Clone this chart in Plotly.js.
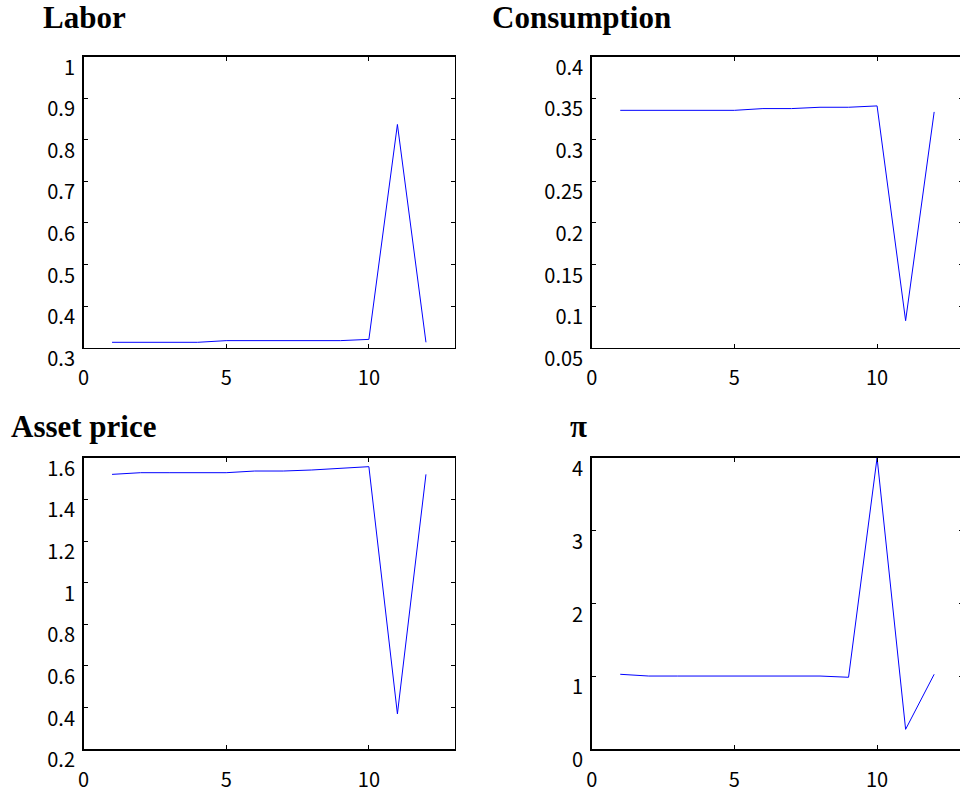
<!DOCTYPE html>
<html>
<head>
<meta charset="utf-8">
<script src="https://cdn.plot.ly/plotly-3.0.1.min.js"></script>
<style>
html, body { margin: 0; padding: 0; overflow: hidden; background: #fff; }
#chart { width: 970px; height: 793px; }
</style>
</head>
<body>
<div id="chart"></div>
<script>
// Data
const periods = [1, 2, 3, 4, 5, 6, 7, 8, 9, 10, 11, 12];
const labor = [0.313, 0.313, 0.313, 0.313, 0.317, 0.317, 0.317, 0.316, 0.317, 0.320, 0.837, 0.313];
const consumption = [0.3355, 0.3355, 0.3355, 0.3355, 0.3355, 0.3376, 0.3376, 0.3392, 0.3392, 0.3408, 0.0825, 0.3336];
const assetPrice = [1.520, 1.528, 1.528, 1.528, 1.528, 1.536, 1.536, 1.541, 1.549, 1.557, 0.370, 1.520];
const inflation = [1.029, 1.005, 1.005, 1.005, 1.005, 1.005, 1.005, 1.005, 0.988, 4.0, 0.274, 1.029];

const titles = ["Labor", "Consumption", "Asset price", "π"];
const xTicks = [0, 5, 10];
const laborTicks = [0.3, 0.4, 0.5, 0.6, 0.7, 0.8, 0.9, 1];
const consTicks = [0.05, 0.1, 0.15, 0.2, 0.25, 0.3, 0.35, 0.4];
const assetTicks = [0.2, 0.4, 0.6, 0.8, 1, 1.2, 1.4, 1.6];
const piTicks = [0, 1, 2, 3, 4];

const W = 970, H = 793;
const colL = [83.5 / W, 454.5 / W];
const colR = [591.7 / W, 962.7 / W];
const rowT = [1 - 347.7 / H, 1 - 56.7 / H];
const rowB = [1 - 749.3 / H, 1 - 457.7 / H];

const tickFont = { family: "'Noto Sans CJK JP', 'Liberation Sans', sans-serif", size: 20, color: "#000" };

function xAxis(domain, anchor) {
  return {
    domain: domain, anchor: anchor, range: [0, 13],
    tickvals: xTicks, ticktext: xTicks.map(String),
    ticks: "inside", ticklen: 4, tickwidth: 1, tickcolor: "#000",
    showline: true, linecolor: "#000", linewidth: 1.5, mirror: "ticks",
    showgrid: false, zeroline: false,
    tickfont: tickFont, ticklabelstandoff: 12
  };
}
function yAxis(domain, anchor, range, vals) {
  return {
    domain: domain, anchor: anchor, range: range,
    tickvals: vals, ticktext: vals.map(String),
    ticks: "inside", ticklen: 4, tickwidth: 1, tickcolor: "#000",
    showline: true, linecolor: "#000", linewidth: 1.5, mirror: "ticks",
    showgrid: false, zeroline: false,
    tickfont: tickFont, ticklabelshift: 11, ticklabelstandoff: 3
  };
}

const line = { color: "#0000ff", width: 1 };
const traces = [
  { x: periods, y: labor, xaxis: "x", yaxis: "y", type: "scatter", mode: "lines", line: line },
  { x: periods, y: consumption, xaxis: "x2", yaxis: "y2", type: "scatter", mode: "lines", line: line },
  { x: periods, y: assetPrice, xaxis: "x3", yaxis: "y3", type: "scatter", mode: "lines", line: line },
  { x: periods, y: inflation, xaxis: "x4", yaxis: "y4", type: "scatter", mode: "lines", line: line }
];

const titleFont = { family: "'Liberation Serif', 'Times New Roman', serif", size: 31, color: "#000", weight: "bold" };
const titlePos = [[84.7, 17.5], [581, 17.5], [83.2, 426], [578.7, 426]];
const annotations = titles.map((t, i) => ({
  text: "<b>" + t + "</b>", xref: "paper", yref: "paper",
  x: titlePos[i][0] / W, y: 1 - titlePos[i][1] / H,
  xanchor: "center", yanchor: "middle", showarrow: false, font: titleFont
}));

const layout = {
  width: W, height: H,
  margin: { l: 0, r: 0, t: 0, b: 0 },
  paper_bgcolor: "#fff", plot_bgcolor: "#fff",
  showlegend: false,
  xaxis: xAxis(colL, "y"),
  yaxis: yAxis(rowT, "x", [0.3, 1], laborTicks),
  xaxis2: xAxis(colR, "y2"),
  yaxis2: yAxis(rowT, "x2", [0.05, 0.4], consTicks),
  xaxis3: xAxis(colL, "y3"),
  yaxis3: yAxis(rowB, "x3", [0.2, 1.6], assetTicks),
  xaxis4: xAxis(colR, "y4"),
  yaxis4: yAxis(rowB, "x4", [0, 4], piTicks),
  annotations: annotations
};

Plotly.newPlot("chart", traces, layout, { displayModeBar: false, staticPlot: true });
</script>
</body>
</html>
